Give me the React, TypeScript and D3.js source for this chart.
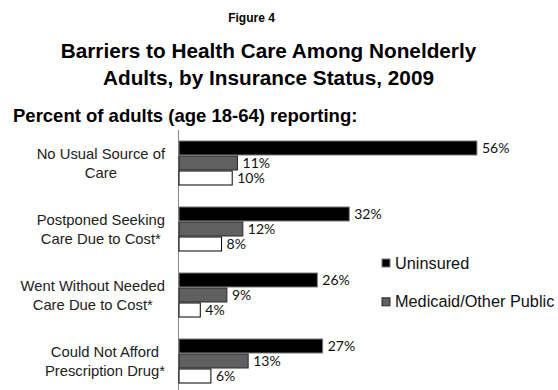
import React from "react";
import * as d3 from "d3";

const categories = [
  ["No Usual Source of", "Care"],
  ["Postponed Seeking", "Care Due to Cost*"],
  ["Went Without Needed", "Care Due to Cost*"],
  ["Could Not Afford", "Prescription Drug*"],
];
const seriesNames = ["Uninsured", "Medicaid/Other Public", "Private"];
const uninsured = [56, 32, 26, 27];
const medicaid = [11, 12, 9, 13];
const privateIns = [10, 8, 4, 6];
const legendNames = ["Uninsured", "Medicaid/Other Public"];

const fills = ["#000000", "#606060", "#ffffff"];
const strokes = ["#7a7a7a", "#2a2a2a", "#000000"];

const W = 558;
const H = 390;

function measure(text: string, font: string): number {
  const c = document.createElement("canvas");
  const ctx = c.getContext("2d")!;
  ctx.font = font;
  return ctx.measureText(text).width;
}

export default function App() {
  const values = [uninsured, medicaid, privateIns];
  const catKeys = categories.map((c) => c.join(" "));
  const x = d3.scaleLinear().domain([0, 60]).range([179, 179 + 60 * 5.32]);
  const step = 66;
  const pIn = 21 / 66;
  const y = d3
    .scaleBand<string>()
    .domain(catKeys)
    .range([140.5, 140.5 + step * (4 - pIn)])
    .paddingInner(pIn)
    .paddingOuter(0);
  const ys = d3
    .scaleBand<string>()
    .domain(seriesNames)
    .range([0, y.bandwidth()])
    .padding(0);

  const labelSize = 14.8;
  const labelFont = `${labelSize}px 'Liberation Sans', Arial, sans-serif`;
  const labelRight = 165;

  return (
    <svg
      width={W}
      height={H}
      style={{ position: "absolute", left: 0, top: 0, background: "#fff" }}
    >
      <text
        x={251.5}
        y={22}
        textAnchor="middle"
        fontFamily="'Liberation Sans Narrow', 'Liberation Sans', Arial, sans-serif"
        fontWeight="bold"
        fontSize={12}
      >
        Figure 4
      </text>
      <text
        x={268.5}
        y={57.5}
        textAnchor="middle"
        fontFamily="'Liberation Sans', Arial, sans-serif"
        fontWeight="bold"
        fontSize={20.75}
      >
        Barriers to Health Care Among Nonelderly
      </text>
      <text
        x={268.5}
        y={84.5}
        textAnchor="middle"
        fontFamily="'Liberation Sans', Arial, sans-serif"
        fontWeight="bold"
        fontSize={20.75}
      >
        Adults, by Insurance Status, 2009
      </text>
      <text
        x={13}
        y={121.5}
        fontFamily="'Liberation Sans', Arial, sans-serif"
        fontWeight="bold"
        fontSize={18.5}
      >
        Percent of adults (age 18-64) reporting:
      </text>

      {/* axis line */}
      <line x1={178.5} x2={178.5} y1={130} y2={394} stroke="#888" strokeWidth={1} />

      {categories.map((lines, i) => {
        const key = catKeys[i];
        const y0 = y(key)!;
        const maxW = Math.max(...lines.map((l) => measure(l, labelFont)));
        const cx = labelRight - maxW / 2;
        const cy = y0 + y.bandwidth() / 2;
        return (
          <g key={key}>
            {lines.map((l, j) => (
              <text
                key={j}
                x={cx}
                y={cy + (j - (lines.length - 1) / 2) * 19 + 5}
                textAnchor="middle"
                fontFamily="'Liberation Sans', Arial, sans-serif"
                fontSize={labelSize}
                fill="#222"
              >
                {l}
              </text>
            ))}
            {seriesNames.map((s, k) => {
              const v = values[k][i];
              const by = y0 + ys(s)!;
              const bh = ys.bandwidth();
              return (
                <g key={s}>
                  <rect
                    x={x(0)}
                    y={by + 0.5}
                    width={x(v) - x(0)}
                    height={bh - 1}
                    fill={fills[k]}
                    stroke={strokes[k]}
                    strokeWidth={1}
                  />
                  <text
                    x={x(v) + 5}
                    y={by + bh / 2 + 5}
                    fontFamily="Lato, 'Open Sans', sans-serif"
                    fontSize={14}
                    fill="#111"
                  >
                    {v}%
                  </text>
                </g>
              );
            })}
          </g>
        );
      })}

      {legendNames.map((n, k) => {
        const ly = 263 + k * 38.8;
        return (
          <g key={n}>
            <rect
              x={382}
              y={ly - 4}
              width={8}
              height={8}
              fill={fills[k]}
              stroke={strokes[k]}
              strokeWidth={1}
            />
            <text
              x={395}
              y={ly + 5.5}
              fontFamily="'Liberation Sans', Arial, sans-serif"
              fontSize={16.3}
              fill="#111"
            >
              {n}
            </text>
          </g>
        );
      })}
    </svg>
  );
}
